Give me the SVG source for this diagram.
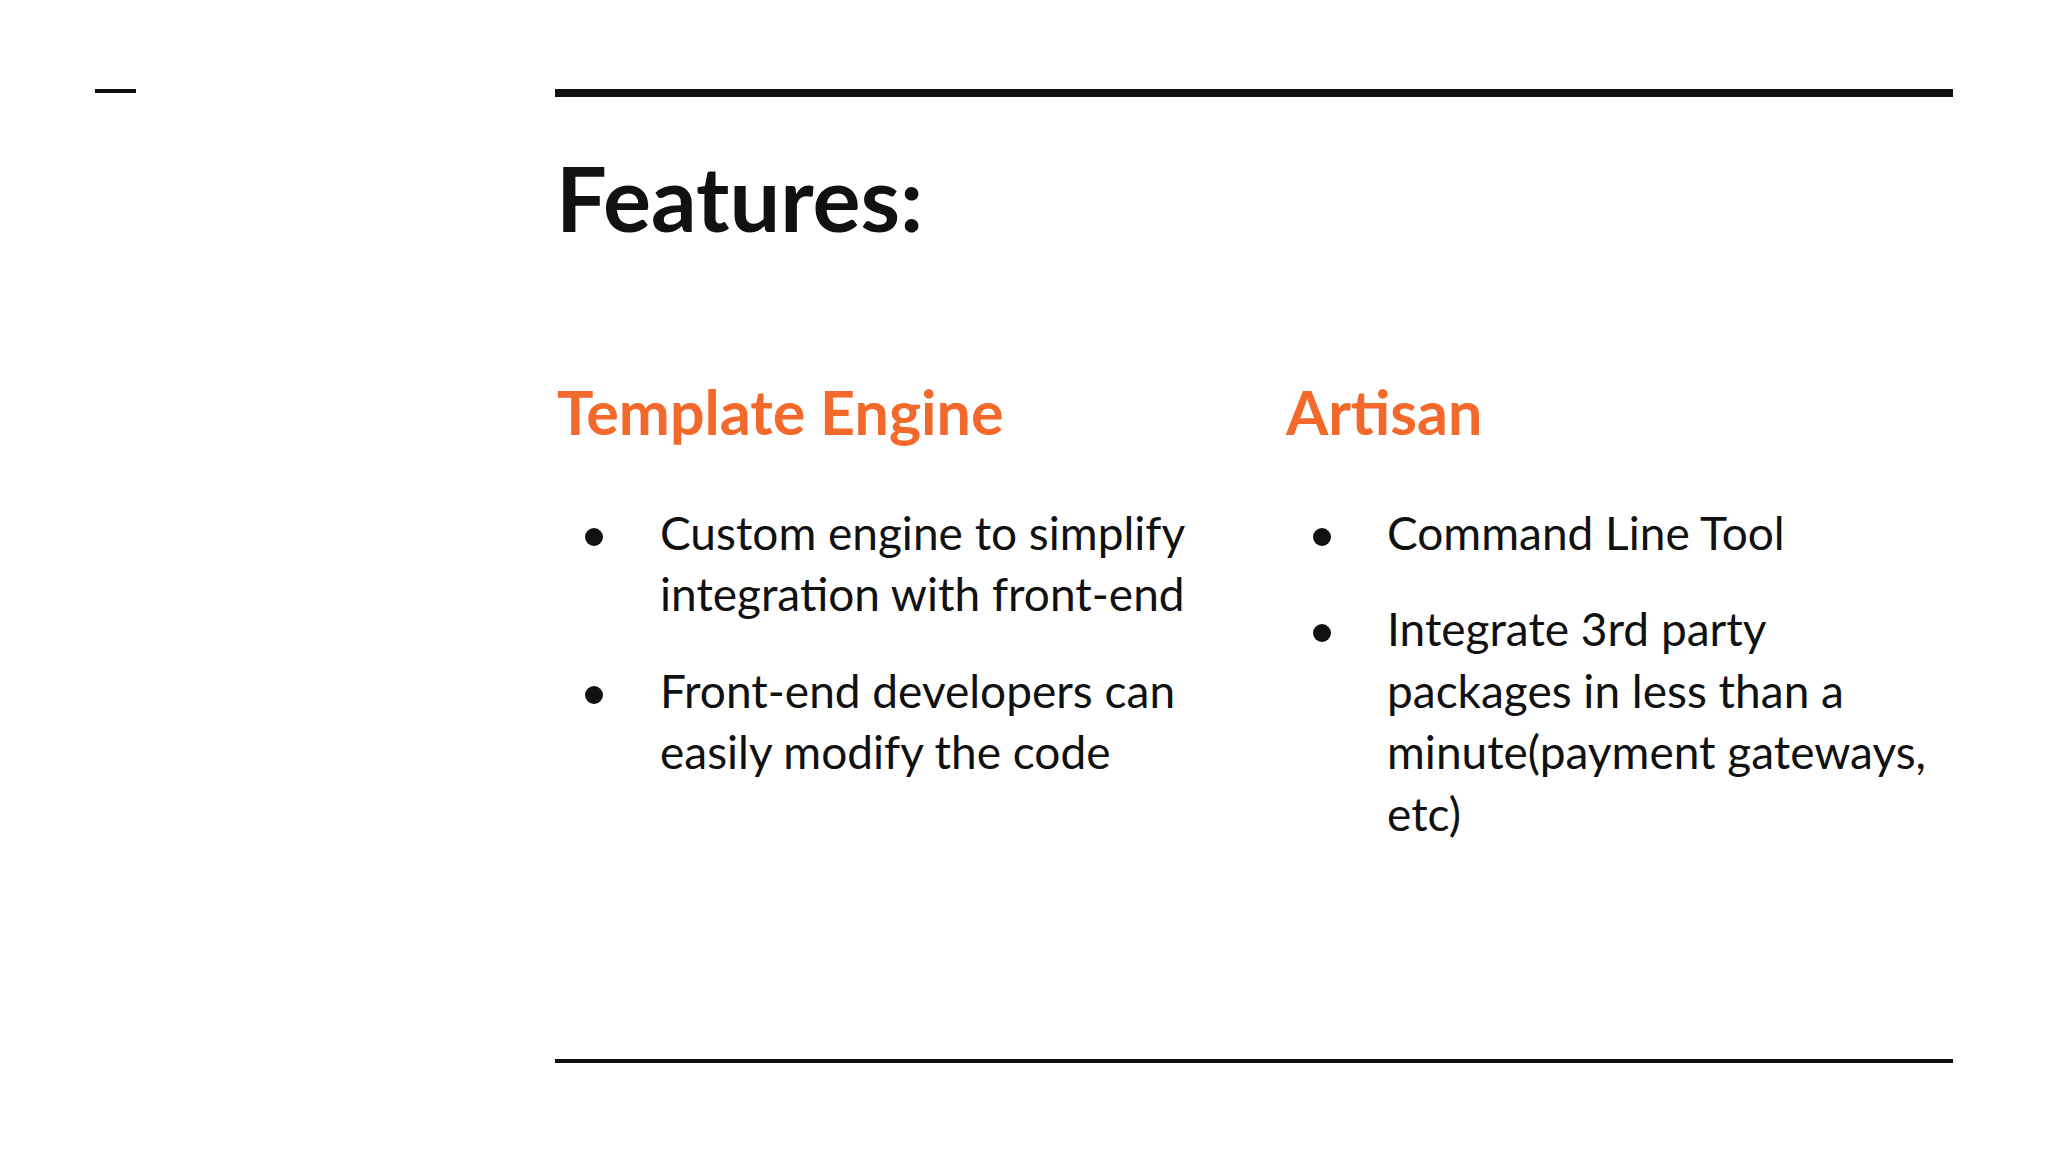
<svg xmlns="http://www.w3.org/2000/svg" width="2048" height="1152" viewBox="0 0 2048 1152">
<style>
.h{font-family:Lato,"Open Sans",sans-serif;font-weight:bold;fill:#F2692B;font-size:61px}
.b{font-family:Lato,"Open Sans",sans-serif;fill:#111;font-size:46px}
.d{fill:#111}
</style>
<rect width="2048" height="1152" fill="#fff"/>
<g id="decor">
<rect x="95" y="89" width="41" height="4" fill="#111"/>
<rect x="555" y="89" width="1398" height="8" fill="#111"/>
<rect x="555" y="1059" width="1398" height="4" fill="#111"/>
</g>
<g id="title"><text x="556" y="232" font-family="Lato,'Open Sans',sans-serif" font-weight="bold" font-size="90" fill="#111">Features:</text></g>
<g id="template-engine">
<text class="h" x="557" y="435">Template Engine</text>
<circle class="d" cx="594" cy="537" r="9"/>
<text class="b" x="660" y="550">Custom engine to simplify</text>
<text class="b" x="660" y="611">integration with front-end</text>
<circle class="d" cx="594" cy="695" r="9"/>
<text class="b" x="660" y="708">Front-end developers can</text>
<text class="b" x="660" y="769">easily modify the code</text>
</g>
<g id="artisan">
<text class="h" x="1286" y="435">Artisan</text>
<circle class="d" cx="1322" cy="537" r="9"/>
<text class="b" x="1387" y="550">Command Line Tool</text>
<circle class="d" cx="1322" cy="633" r="9"/>
<text class="b" x="1387" y="646">Integrate 3rd party</text>
<text class="b" x="1387" y="708">packages in less than a</text>
<text class="b" x="1387" y="769">minute(payment gateways,</text>
<text class="b" x="1387" y="831">etc)</text>
</g>
<g id="connectors"/>
</svg>
